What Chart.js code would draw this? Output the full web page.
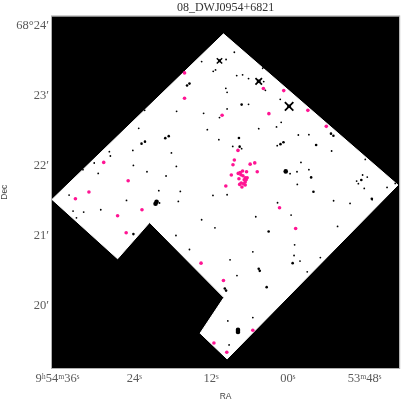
<!DOCTYPE html>
<html><head><meta charset="utf-8">
<style>html,body{margin:0;padding:0;background:#fff}canvas{display:block}</style>
<script src="https://cdn.jsdelivr.net/npm/chart.js@4/dist/chart.umd.min.js"></script>
</head><body><canvas id="c" width="407" height="402"></canvas>
<script>
// RA = seconds past 09h53m, Dec = arcminutes past 68 deg
const footprintRA=[70.06,42.80,69.49,73.71,70.00,81.60,86.60,96.85,70.06];
const footprintDec=[23.891,21.731,19.246,19.614,20.123,21.196,20.677,21.525,23.891];

const sourceRA=[76.14,76.14,88.77,84.95,91.08,93.19,86.60,82.79,85.26,73.56,63.82,60.64,56.87,53.99,62.96,70.27,67.79,68.36,68.57,65.89,65.17,64.78,68.83,69.69,
67.07,67.44,67.75,66.45,67.33,67.02,66.66,66.36,67.64,66.82,66.51,66.66,67.28,66.91,67.53,66.66,67.17,61.30,58.78,70.06,65.47,71.55,69.54];
const sourceDec=[23.333,22.970,22.054,21.793,21.631,21.535,21.292,21.378,21.049,20.615,23.109,23.080,22.798,22.569,22.751,22.727,22.226,22.089,22.021,22.029,22.047,21.921,21.874,21.717,
21.931,21.911,21.897,21.921,21.878,21.864,21.835,21.835,21.821,21.807,21.807,21.774,21.760,21.750,21.740,21.731,21.702,21.406,21.110,20.366,19.657,19.475,19.342];

const faintRA=[73.47,82.37,77.38,83.30,84.22,87.89,90.25,84.13,82.01,89.63,79.03,80.16,76.80,94.18,87.73,78.19,77.42,92.01,
68.36,69.65,63.93,71.30,71.66,67.99,67.07,66.14,63.77,69.69,69.49,63.51,61.19,66.14,69.49,73.16,70.68,61.04,64.55,61.77,72.58,58.36,56.71,70.78,68.61,67.22,61.66,53.16,57.95,47.90,56.71,58.57,59.65,48.32,47.59,49.25,48.98,58.52,48.06,44.50,43.22,71.70,69.49,
80.05,85.21,77.11,89.23,93.56,91.90,93.03,77.48,75.37,73.47,61.61,52.85,50.28,46.82,65.01,59.49,52.23,71.39,58.94,65.47,69.03,59.03,58.10,54.92,56.97,67.95,65.47,69.38,69.18];
const faintDec=[23.495,22.798,22.784,22.541,22.226,22.207,22.046,22.011,21.921,21.897,21.860,21.650,21.639,21.588,22.146,22.189,21.997,21.950,
23.628,23.524,23.399,23.376,23.356,23.295,23.305,23.252,23.209,23.113,23.056,23.084,22.956,22.884,22.818,22.755,22.694,22.627,22.536,22.561,22.522,22.446,22.451,22.379,22.283,22.250,22.293,22.217,22.054,22.097,21.950,21.921,21.893,21.874,21.845,21.788,21.750,21.740,21.682,21.697,21.754,21.582,21.592,
21.474,21.511,21.496,21.378,21.359,21.345,21.263,21.010,20.810,21.235,21.478,21.506,21.468,21.521,21.278,21.302,21.139,21.120,20.877,20.777,20.662,20.724,20.644,20.695,20.491,20.438,19.837,19.790,19.446];

const mediumRA=[75.75,75.37,79.15,78.61,82.86,82.32,67.22,67.64,55.58,67.53,56.36,48.52,56.00,46.88,61.15,60.68,53.26,52.88,84.13,63.00,59.25,64.55,64.39,69.85,69.65,63.31];
const mediumDec=[23.152,23.180,22.401,22.429,22.322,22.351,22.880,22.403,22.303,22.279,21.840,21.803,21.635,21.535,22.315,22.343,22.465,22.436,21.030,21.067,20.615,20.534,20.505,20.252,20.223,20.272];

const brightRA=[60.33,80.67,80.51,67.79,67.79];
const brightDec=[21.926,21.464,21.492,19.661,19.632];

const starRA=[70.68,64.55,59.80];
const starDec=[23.505,23.213,22.856];

const raTicks=[96,84,72,60,48];
const raTickLabels=["9ʰ54ᵐ36ˢ","24ˢ","12ˢ","00ˢ","53ᵐ48ˢ"];
const decTicks=[24,23,22,21,20];
const decTickLabels=["68°24′","23′","22′","21′","20′"];

const pts=(xs,ys)=>xs.map((x,i)=>({x,y:ys[i]}));
const tickColor='#5a5a5a', tickFont={family:'"Liberation Serif"',size:12.5};

const frame={id:'frame',
 beforeDatasetsDraw(ch){const a=ch.chartArea,c=ch.ctx;c.save();c.fillStyle='#000';c.fillRect(a.left,a.top,a.width,a.height);c.restore();},
 afterDraw(ch){const a=ch.chartArea,c=ch.ctx;c.save();c.strokeStyle='#b0b0b0';c.lineWidth=1;c.strokeRect(a.left-.5,a.top-.5,a.width+1,a.height+1);c.restore();}};

const dot=(label,xs,ys,color,r)=>({label,data:pts(xs,ys),pointRadius:r,pointBorderWidth:0,pointBackgroundColor:color,showLine:false,pointHoverRadius:r});

new Chart(document.getElementById('c'),{
 type:'scatter',
 plugins:[frame],
 data:{datasets:[
  dot('Source',sourceRA,sourceDec,'#ff1493',1.8),
  dot('Bright',brightRA,brightDec,'#000',2.3),
  dot('Medium',mediumRA,mediumDec,'#000',1.3),
  dot('Faint',faintRA,faintDec,'#000',0.9),
  {label:'Star',data:pts(starRA,starDec),pointStyle:'crossRot',pointRadius:[3.8,4.6,6],pointBorderWidth:[1.5,1.8,1.8],pointBorderColor:'#000',showLine:false},
  {label:'Star core',data:pts(starRA,starDec),pointRadius:[1.5,1.8,1.8],pointBorderWidth:0,pointBackgroundColor:'#000',showLine:false},
  {label:'Footprint',data:pts(footprintRA,footprintDec),showLine:true,fill:'shape',backgroundColor:'#fff',borderColor:'#fff',borderWidth:1,pointRadius:0,tension:0,order:10}
 ]},
 options:{
  responsive:false,animation:false,
  layout:{padding:{right:4,top:0,bottom:0,left:0}},
  plugins:{legend:{display:false},tooltip:{enabled:false},
   title:{display:true,fullSize:false,text:'08_DWJ0954+6821',color:'#333',font:{family:'"Liberation Serif"',size:12,weight:'normal'},padding:{top:1,bottom:1}}},
  scales:{
   x:{type:'linear',reverse:true,min:42.6,max:96.85,
    afterBuildTicks(s){s.ticks=raTicks.map(value=>({value}));},
    afterFit(s){s.height=34;s.paddingLeft=0;s.paddingRight=0;},
    grid:{display:false,drawTicks:false,tickLength:0},border:{display:false},
    ticks:{autoSkip:false,maxRotation:0,color:tickColor,font:tickFont,padding:3,callback:v=>raTickLabels[raTicks.indexOf(v)]},
    title:{display:true,text:'RA',color:'#444',font:{family:'"Liberation Sans"',size:8.5},padding:{top:2,bottom:0}}},
   y:{type:'linear',min:19.117,max:24.14,
    afterBuildTicks(s){s.ticks=decTicks.map(value=>({value}));},
    afterFit(s){s.width=52;s.paddingTop=0;s.paddingBottom=0;},
    grid:{display:false,drawTicks:false,tickLength:0},border:{display:false},
    ticks:{autoSkip:false,color:tickColor,font:tickFont,padding:3,callback:v=>decTickLabels[decTicks.indexOf(v)]},
    title:{display:true,text:'Dec',color:'#444',font:{family:'"Liberation Sans"',size:8.5},padding:{top:0,bottom:0}}}
  }
 }
});
</script></body></html>
